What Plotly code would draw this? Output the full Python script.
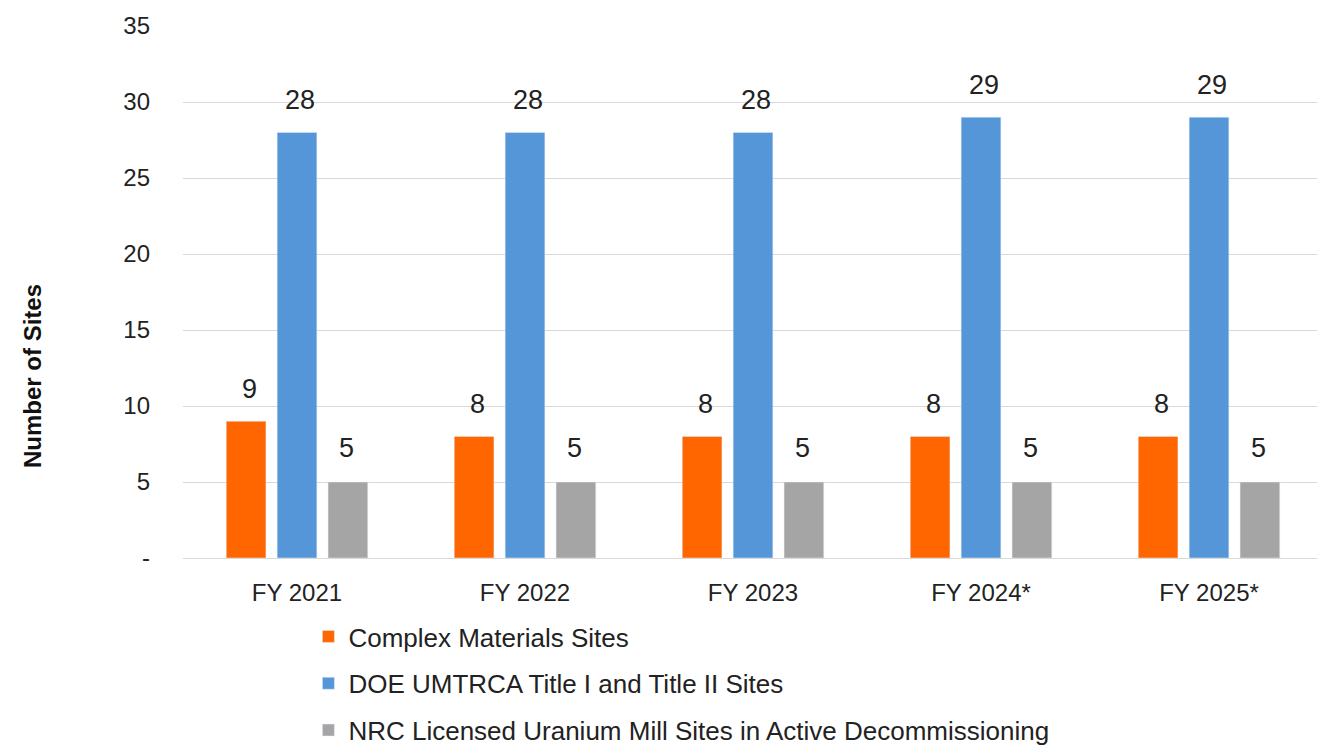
import plotly.graph_objects as go

categories = ["FY 2021", "FY 2022", "FY 2023", "FY 2024*", "FY 2025*"]
complex_sites = [9, 8, 8, 8, 8]
doe_sites = [28, 28, 28, 29, 29]
nrc_sites = [5, 5, 5, 5, 5]
series_names = [
    "Complex Materials Sites",
    "DOE UMTRCA Title I and Title II Sites",
    "NRC Licensed Uranium Mill Sites in Active Decommissioning",
]
colors = ["#FF6600", "#5596D8", "#A5A5A5"]
y_tickvals = [0, 5, 10, 15, 20, 25, 30, 35]
y_ticktext = ["-", "5", "10", "15", "20", "25", "30", "35"]

FONT = "Liberation Sans, Arial, sans-serif"

# page body has an 8px margin; figure is sized to fit the 1325x747 window
W, H = 1317, 739
L, R, T, B = 175, 2, 18, 189
plot_w = W - L - R
plot_h = H - T - B

fig = go.Figure()
all_series = [complex_sites, doe_sites, nrc_sites]
for i, (name, vals, col) in enumerate(zip(series_names, all_series, colors)):
    fig.add_trace(go.Bar(
        x=categories, y=vals, name=name, marker_color=col,
        legendgroup=f"g{i}",
    ))

# value labels above bars
shifts = [-48, 3, 49]
annotations = []
for vals, xs in zip(all_series, shifts):
    for c, v in zip(categories, vals):
        annotations.append(dict(
            x=c, y=v, xref="x", yref="y", text=str(v), showarrow=False,
            xshift=xs, yshift=15 if xs != 49 else 17, yanchor="bottom",
            font=dict(family=FONT, size=27, color="#222222"),
        ))

annotations.append(dict(
    x=(24 - L) / plot_w, y=(550 - 368) / plot_h, xref="paper", yref="paper",
    xanchor="center", yanchor="middle",
    text="<b>Number of Sites</b>", showarrow=False, textangle=-90,
    font=dict(family=FONT, size=24, color="#111111"),
))

fig.update_layout(
    width=W, height=H,
    margin=dict(l=L, r=R, t=T, b=B, autoexpand=False),
    paper_bgcolor="white", plot_bgcolor="white",
    barmode="group", bargap=0.33, bargroupgap=0.22,
    font=dict(family=FONT, size=24, color="#222222"),
    showlegend=True,
    legend=dict(
        orientation="v", x=0.11, xanchor="left",
        yref="container", y=0.1813, yanchor="top",
        font=dict(family=FONT, size=26, color="#222222"),
        tracegroupgap=10, itemclick=False,
    ),
    xaxis=dict(
        showgrid=False, showline=False, zeroline=False,
        tickfont=dict(family=FONT, size=24, color="#222222"),
        ticks="", ticklabelstandoff=18,
    ),
    yaxis=dict(
        range=[0, 35], tickvals=y_tickvals, ticktext=y_ticktext,
        showgrid=True, gridcolor="#D9D9D9", gridwidth=1,
        zeroline=True, zerolinecolor="#D9D9D9", zerolinewidth=1,
        showline=False, ticks="",
        tickfont=dict(family=FONT, size=24, color="#222222"),
        ticklabelstandoff=32,
    ),
    annotations=annotations,
)

fig.write_html("out.html")
